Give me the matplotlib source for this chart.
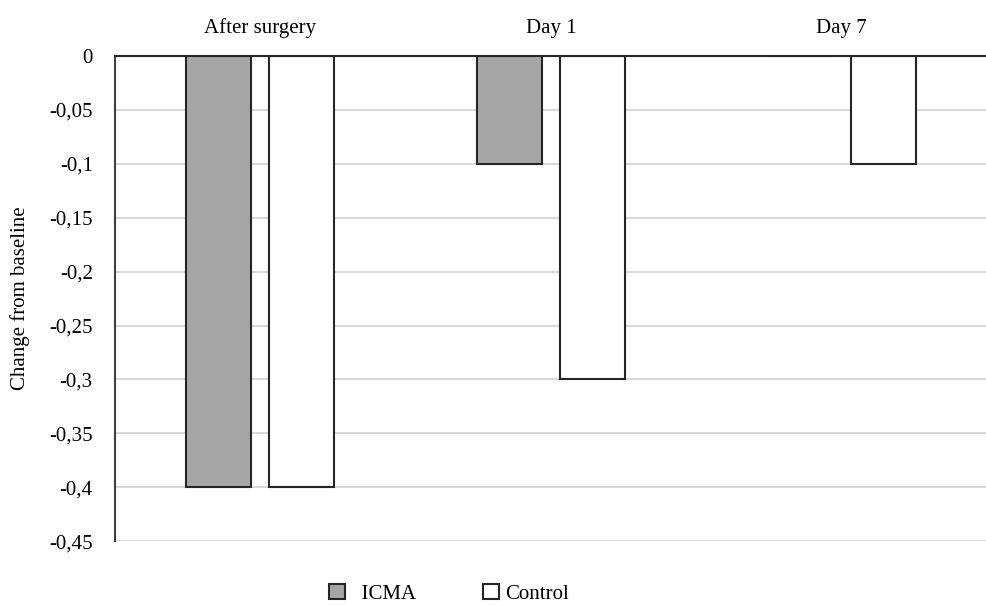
import numpy as np
import matplotlib.pyplot as plt

plt.rcParams['font.family'] = ['Liberation Serif', 'DejaVu Serif']

categories = ["After surgery", "Day 1", "Day 7"]
icma = [-0.4, -0.1, 0.0]
control = [-0.4, -0.3, -0.1]
yticks = [0, -0.05, -0.1, -0.15, -0.2, -0.25, -0.3, -0.35, -0.4, -0.45]
ytick_labels = ["0", "-0,05", "-0,1", "-0,15", "-0,2", "-0,25", "-0,3", "-0,35", "-0,4", "-0,45"]

fig = plt.figure(figsize=(9.87, 6.06), dpi=100)
ax = fig.add_axes([0.1165, 0.107, 0.8835, 0.8006])

x = np.arange(len(categories))
w = 0.224
off = 0.143
ax.bar(x - off, icma, w, color="#A6A6A6", edgecolor="#262626", linewidth=1.5, label="  ICMA", zorder=3)
ax.bar(x + off, control, w, color="white", edgecolor="#262626", linewidth=1.5, label="Control", zorder=3)

fs = 15
ax.set_xlim(-0.5, 2.5)
ax.set_ylim(-0.45, 0)
ax.set_yticks(yticks)
ax.set_yticklabels(ytick_labels, fontsize=fs)
ax.set_xticks(x)
ax.set_xticklabels(categories, fontsize=fs)
ax.xaxis.tick_top()
ax.tick_params(axis="x", length=0, pad=13)
ax.tick_params(axis="y", length=0, pad=16)

ax.yaxis.grid(True, color="#D9D9D9", linewidth=1.5, zorder=0)
ax.set_axisbelow(True)
for s in ["right", "bottom"]:
    ax.spines[s].set_visible(False)
ax.spines["left"].set_color("#404040")
ax.spines["left"].set_linewidth(1.5)
ax.spines["top"].set_color("#262626")
ax.spines["top"].set_linewidth(1.5)
ax.spines["top"].set_zorder(4)

ax.set_ylabel("Change from baseline", fontsize=fs, labelpad=14)

fig.legend(loc="lower center", bbox_to_anchor=(0.455, -0.027), ncol=2, frameon=False,
           fontsize=fs, handlelength=0.75, handleheight=0.75, columnspacing=3.2, handletextpad=0.3)

fig.savefig("out.png", dpi=100)
